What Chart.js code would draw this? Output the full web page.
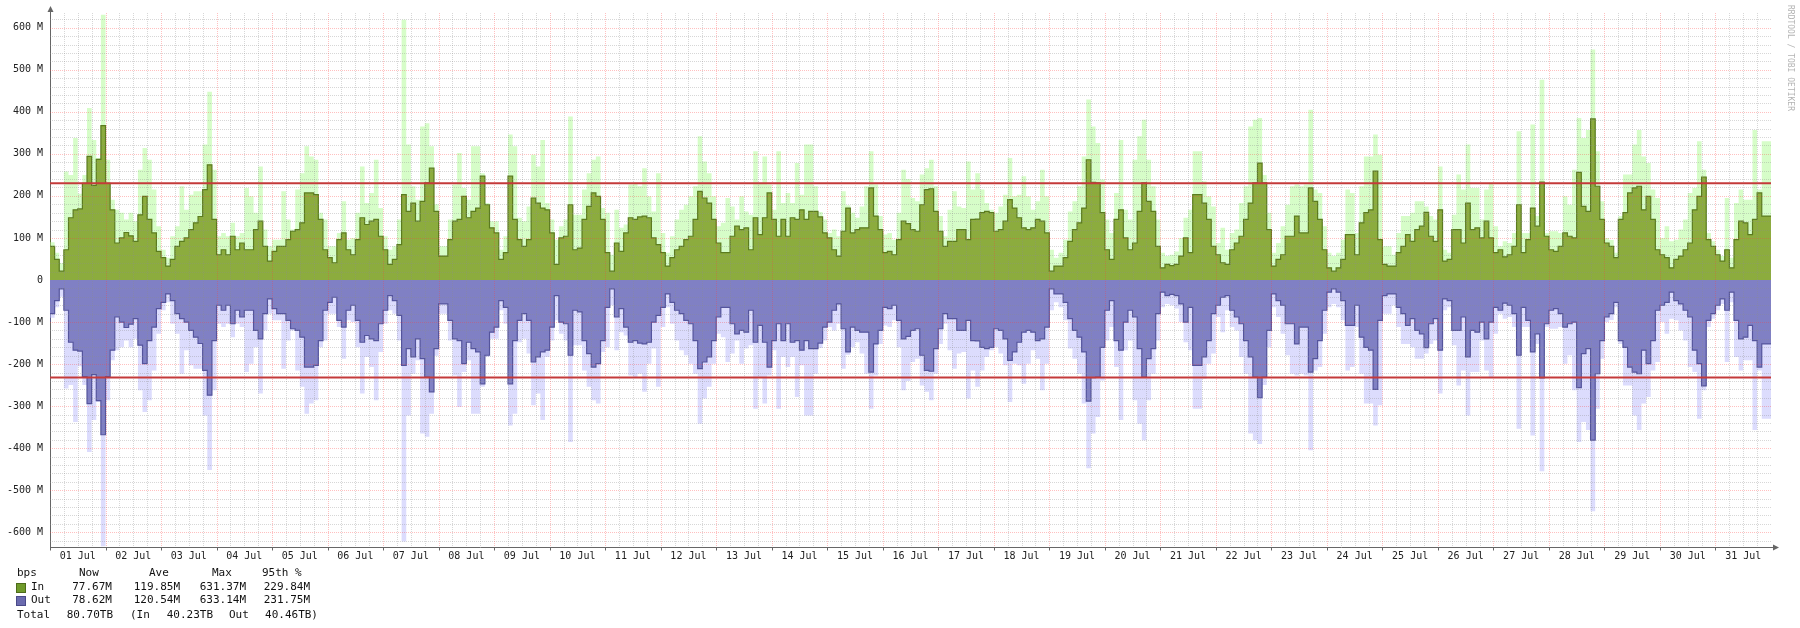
<!DOCTYPE html>
<html>
<head>
<meta charset="utf-8">
<title>Traffic - July</title>
<script src="https://cdn.jsdelivr.net/npm/chart.js@4.4.1/dist/chart.umd.min.js"></script>
<style>
  body { margin: 0; background: #fff; }
  #wrap { position: relative; width: 1800px; height: 628px; overflow: hidden; }
  #wrap canvas { position: absolute; left: 0; top: 0; }
  .t { position: absolute; font: 11px 'DejaVu Sans Mono', monospace; color: #111; white-space: pre; line-height: 14px; }
  .r { transform: translateX(-100%); }
  .sq { position: absolute; width: 8px; height: 8px; }
  #credit { position: absolute; left: 1786px; top: 5px; font: 8px 'DejaVu Sans Mono', monospace; color: #b4b4b4; writing-mode: vertical-rl; white-space: nowrap; }
</style>
</head>
<body>
<div id="wrap">
  <canvas id="my-chart" width="1800" height="628"></canvas>

  <div class="t" style="left:17px;top:566px">bps</div>
  <div class="t" style="left:79px;top:566px">Now</div>
  <div class="t" style="left:149px;top:566px">Ave</div>
  <div class="t" style="left:212px;top:566px">Max</div>
  <div class="t" style="left:262px;top:566px">95th %</div>

  <div class="sq" style="left:16px;top:583px;background:#6f9a2a;border:1px solid #4d6b1a"></div>
  <div class="t" style="left:31px;top:580px">In</div>
  <div class="t r" style="left:112px;top:580px">77.67M</div>
  <div class="t r" style="left:180px;top:580px">119.85M</div>
  <div class="t r" style="left:246px;top:580px">631.37M</div>
  <div class="t r" style="left:310px;top:580px">229.84M</div>

  <div class="sq" style="left:16px;top:596px;background:#6a6aae;border:1px solid #4a4a88"></div>
  <div class="t" style="left:31px;top:593px">Out</div>
  <div class="t r" style="left:112px;top:593px">78.62M</div>
  <div class="t r" style="left:180px;top:593px">120.54M</div>
  <div class="t r" style="left:246px;top:593px">633.14M</div>
  <div class="t r" style="left:310px;top:593px">231.75M</div>

  <div class="t" style="left:17px;top:608px">Total</div>
  <div class="t r" style="left:113px;top:608px">80.70TB</div>
  <div class="t" style="left:130px;top:608px">(In</div>
  <div class="t r" style="left:213px;top:608px">40.23TB</div>
  <div class="t" style="left:229px;top:608px">Out</div>
  <div class="t r" style="left:318px;top:608px">40.46TB)</div>

  <div id="credit">RRDTOOL / TOBI OETIKER</div>
</div>

<script>
'use strict';

// one value every 2 hours, 12 per day, 1 Jul .. 31 Jul (Mbps)
let stepHours = 2;

let dayLabels = ['01 Jul', '02 Jul', '03 Jul', '04 Jul', '05 Jul', '06 Jul', '07 Jul', '08 Jul',
  '09 Jul', '10 Jul', '11 Jul', '12 Jul', '13 Jul', '14 Jul', '15 Jul', '16 Jul', '17 Jul',
  '18 Jul', '19 Jul', '20 Jul', '21 Jul', '22 Jul', '23 Jul', '24 Jul', '25 Jul', '26 Jul',
  '27 Jul', '28 Jul', '29 Jul', '30 Jul', '31 Jul'];

let yTicks = [-600, -500, -400, -300, -200, -100, 0, 100, 200, 300, 400, 500, 600];

// 95th percentile: in, out
let pct95 = [229.84, 231.75];

let inAvg = [
  100, 80, 49, 21, 72, 148, 167, 169, 230, 294, 225, 287,
  367, 230, 167, 88, 100, 113, 105, 92, 155, 199, 144, 112,
  68, 53, 33, 49, 80, 92, 100, 120, 136, 151, 215, 274,
  144, 60, 72, 60, 104, 72, 88, 72, 72, 120, 140, 80,
  45, 68, 80, 80, 96, 116, 120, 136, 207, 207, 203, 144,
  72, 53, 41, 96, 112, 72, 60, 96, 148, 132, 140, 144,
  104, 72, 37, 49, 84, 203, 163, 183, 140, 187, 231, 266,
  163, 57, 57, 96, 140, 144, 199, 148, 163, 171, 247, 179,
  124, 112, 49, 65, 247, 144, 96, 80, 96, 195, 183, 171,
  167, 112, 37, 100, 104, 179, 72, 76, 144, 175, 207, 199,
  144, 65, 21, 88, 68, 112, 148, 144, 150, 152, 148, 100,
  84, 65, 33, 53, 72, 80, 96, 104, 144, 211, 195, 183,
  144, 88, 65, 65, 104, 128, 120, 124, 72, 148, 108, 148,
  207, 144, 104, 144, 104, 148, 144, 167, 144, 163, 163, 150,
  112, 100, 72, 57, 116, 171, 112, 120, 124, 124, 219, 152,
  120, 65, 68, 60, 96, 140, 134, 120, 116, 179, 215, 217,
  163, 116, 80, 92, 92, 120, 120, 96, 144, 145, 160, 163,
  160, 116, 120, 140, 191, 171, 148, 124, 120, 124, 144, 140,
  112, 21, 33, 33, 53, 92, 120, 136, 171, 286, 232, 231,
  160, 72, 49, 144, 167, 100, 72, 88, 163, 231, 187, 163,
  80, 29, 37, 34, 37, 57, 100, 65, 203, 203, 183, 144,
  80, 60, 41, 37, 72, 88, 104, 144, 183, 231, 278, 231,
  120, 33, 49, 60, 104, 104, 152, 112, 112, 219, 187, 144,
  72, 29, 21, 29, 49, 108, 108, 60, 136, 160, 167, 259,
  96, 37, 33, 33, 65, 80, 108, 92, 120, 128, 161, 104,
  92, 167, 45, 49, 120, 120, 88, 183, 120, 124, 100, 140,
  100, 65, 72, 55, 60, 80, 179, 65, 96, 171, 128, 233,
  104, 72, 68, 80, 112, 104, 100, 256, 175, 163, 383, 223,
  144, 88, 80, 53, 144, 160, 207, 219, 223, 167, 199, 144,
  72, 60, 53, 29, 49, 57, 72, 88, 167, 199, 245, 96,
  80, 60, 45, 72, 29, 96, 140, 136, 108, 144, 207, 152
];

let inMax = [
  227, 90, 65, 40, 258, 250, 338, 205, 250, 409, 333, 290,
  631, 286, 191, 167, 160, 144, 160, 140, 262, 314, 286, 215,
  128, 72, 53, 104, 128, 223, 167, 203, 211, 211, 322, 448,
  262, 104, 112, 104, 136, 104, 112, 219, 199, 160, 270, 120,
  80, 96, 96, 211, 144, 120, 215, 254, 318, 294, 286, 160,
  144, 80, 80, 112, 187, 96, 100, 160, 270, 183, 207, 286,
  171, 104, 72, 80, 144, 619, 322, 223, 191, 365, 373, 318,
  180, 80, 80, 144, 227, 302, 219, 191, 318, 318, 254, 183,
  140, 140, 72, 104, 346, 318, 148, 140, 175, 298, 270, 333,
  183, 144, 96, 128, 144, 389, 155, 155, 215, 254, 286, 294,
  171, 160, 60, 167, 124, 132, 227, 231, 223, 266, 199, 163,
  254, 112, 65, 104, 144, 167, 179, 199, 223, 342, 282, 254,
  199, 128, 136, 195, 175, 144, 199, 163, 155, 306, 231, 294,
  227, 167, 306, 183, 207, 183, 278, 203, 322, 322, 223, 162,
  144, 112, 120, 104, 211, 178, 160, 148, 175, 223, 306, 227,
  152, 108, 112, 96, 160, 262, 240, 195, 187, 251, 266, 286,
  223, 152, 104, 167, 211, 175, 171, 282, 215, 254, 215, 183,
  167, 160, 175, 203, 290, 199, 203, 247, 199, 167, 187, 262,
  199, 72, 53, 65, 96, 163, 187, 223, 294, 429, 365, 326,
  239, 144, 112, 207, 333, 167, 144, 286, 342, 381, 286, 223,
  144, 65, 57, 60, 68, 100, 148, 167, 306, 306, 235, 199,
  175, 88, 124, 72, 112, 120, 183, 223, 365, 381, 385, 250,
  160, 65, 88, 128, 179, 223, 227, 223, 227, 405, 215, 207,
  128, 65, 57, 65, 96, 215, 207, 112, 223, 294, 294, 346,
  298, 80, 80, 60, 112, 152, 152, 160, 187, 187, 175, 152,
  144, 270, 72, 65, 155, 251, 215, 322, 219, 219, 144, 215,
  231, 128, 80, 92, 88, 112, 354, 112, 112, 370, 152, 476,
  112, 116, 116, 112, 199, 179, 262, 385, 338, 357, 548, 306,
  187, 100, 95, 65, 152, 251, 251, 322, 357, 294, 278, 215,
  195, 100, 128, 92, 96, 120, 144, 207, 219, 330, 262, 112,
  92, 72, 57, 195, 53, 183, 215, 191, 191, 357, 215, 330
];

let outAvg = [
  100, 80, 49, 21, 72, 148, 167, 169, 230, 294, 225, 287,
  368, 230, 167, 88, 100, 113, 105, 92, 155, 199, 144, 112,
  68, 53, 33, 49, 80, 92, 100, 120, 136, 151, 215, 274,
  144, 60, 72, 60, 104, 72, 88, 72, 72, 120, 140, 80,
  45, 68, 80, 80, 96, 116, 120, 136, 207, 207, 203, 144,
  72, 53, 41, 96, 112, 72, 60, 96, 148, 132, 140, 144,
  104, 72, 37, 49, 84, 203, 163, 183, 140, 187, 231, 266,
  163, 57, 57, 96, 140, 144, 199, 148, 163, 171, 247, 179,
  124, 112, 49, 65, 247, 144, 96, 80, 96, 195, 183, 171,
  167, 112, 37, 100, 104, 179, 72, 76, 144, 175, 207, 199,
  144, 65, 21, 88, 68, 112, 148, 144, 150, 152, 148, 100,
  84, 65, 33, 53, 72, 80, 96, 104, 144, 211, 195, 183,
  144, 88, 65, 65, 104, 128, 120, 124, 72, 148, 108, 148,
  207, 144, 104, 144, 104, 148, 144, 167, 144, 163, 163, 150,
  112, 100, 72, 57, 116, 171, 112, 120, 124, 124, 219, 152,
  120, 65, 68, 60, 96, 140, 134, 120, 116, 179, 215, 217,
  163, 116, 80, 92, 92, 120, 120, 96, 144, 145, 160, 163,
  160, 116, 120, 140, 191, 171, 148, 124, 120, 124, 144, 140,
  112, 21, 33, 33, 53, 92, 120, 136, 171, 288, 232, 231,
  160, 72, 49, 144, 167, 100, 72, 88, 163, 231, 187, 163,
  80, 29, 37, 34, 37, 57, 100, 65, 203, 203, 183, 144,
  80, 60, 41, 37, 72, 88, 104, 144, 183, 231, 280, 231,
  120, 33, 49, 60, 104, 104, 152, 112, 112, 219, 187, 144,
  72, 29, 21, 29, 49, 108, 108, 60, 136, 160, 167, 260,
  96, 37, 33, 33, 65, 80, 108, 92, 120, 128, 161, 104,
  92, 167, 45, 49, 120, 120, 88, 183, 120, 124, 100, 140,
  100, 65, 72, 55, 60, 80, 179, 65, 96, 171, 128, 233,
  104, 72, 68, 80, 112, 104, 100, 256, 175, 163, 381, 223,
  144, 88, 80, 53, 144, 160, 207, 219, 223, 167, 199, 144,
  72, 60, 53, 29, 49, 57, 72, 88, 167, 199, 252, 96,
  80, 60, 45, 72, 29, 96, 140, 136, 108, 144, 207, 152
];

let outMax = [
  227, 90, 65, 40, 258, 250, 338, 205, 250, 409, 333, 290,
  633, 286, 191, 167, 160, 144, 160, 140, 262, 314, 286, 215,
  128, 72, 53, 104, 128, 223, 167, 203, 211, 211, 322, 452,
  262, 104, 112, 104, 136, 104, 112, 219, 199, 160, 270, 120,
  80, 96, 96, 211, 144, 120, 215, 254, 318, 294, 286, 160,
  144, 80, 80, 112, 187, 96, 100, 160, 270, 183, 207, 286,
  171, 104, 72, 80, 144, 622, 322, 223, 191, 365, 373, 318,
  180, 80, 80, 144, 227, 302, 219, 191, 318, 318, 254, 183,
  140, 140, 72, 104, 346, 318, 148, 140, 175, 298, 270, 333,
  183, 144, 96, 128, 144, 385, 155, 155, 215, 254, 286, 294,
  171, 160, 60, 167, 124, 132, 227, 231, 223, 266, 199, 163,
  254, 112, 65, 104, 144, 167, 179, 199, 223, 342, 282, 254,
  199, 128, 136, 195, 175, 144, 199, 163, 155, 306, 231, 294,
  227, 167, 306, 183, 207, 183, 278, 203, 322, 322, 223, 162,
  144, 112, 120, 104, 211, 178, 160, 148, 175, 223, 306, 227,
  152, 108, 112, 96, 160, 262, 240, 195, 187, 251, 266, 286,
  223, 152, 104, 167, 211, 175, 171, 282, 215, 254, 215, 183,
  167, 160, 175, 203, 290, 199, 203, 247, 199, 167, 187, 262,
  199, 72, 53, 65, 96, 163, 187, 223, 294, 448, 365, 326,
  239, 144, 112, 207, 333, 167, 144, 286, 342, 381, 286, 223,
  144, 65, 57, 60, 68, 100, 148, 167, 306, 306, 235, 199,
  175, 88, 124, 72, 112, 120, 183, 223, 365, 381, 390, 250,
  160, 65, 88, 128, 179, 223, 227, 223, 227, 405, 215, 207,
  128, 65, 57, 65, 96, 215, 207, 112, 223, 294, 294, 346,
  298, 80, 80, 60, 112, 152, 152, 160, 187, 187, 175, 152,
  144, 270, 72, 65, 155, 251, 215, 322, 219, 219, 144, 215,
  231, 128, 80, 92, 88, 112, 354, 112, 112, 370, 152, 455,
  112, 116, 116, 112, 199, 179, 262, 385, 338, 357, 550, 306,
  187, 100, 95, 65, 152, 251, 251, 322, 357, 294, 278, 215,
  195, 100, 128, 92, 96, 120, 144, 207, 219, 330, 262, 112,
  92, 72, 57, 195, 53, 183, 215, 191, 191, 357, 215, 330
];

let totalHours = dayLabels.length * 24;

// turn a list into stepped points, out side goes below zero like rrdtool does
function toSteps(values, sign) {
  let pts = [];
  for (let i = 0; i < values.length; i++) {
    pts.push({x: i * stepHours, y: sign * values[i]});
  }
  pts.push({x: totalHours, y: sign * values[values.length - 1]});
  return pts;
}

function ruleAt(v) {
  return [{x: 0, y: v}, {x: totalHours, y: v}];
}

// grid is drawn on top of the areas but under the 95th lines
let gridDone = false;
const rrdGrid = {
  id: 'rrdGrid',
  beforeDatasetsDraw() { gridDone = false; },
  beforeDatasetDraw(chart, args) {
    if (gridDone || !chart.data.datasets[args.index].isRule) return;
    gridDone = true;
    const {ctx, chartArea: a, scales: {x, y}} = chart;
    ctx.save();
    ctx.lineWidth = 1;
    ctx.setLineDash([1, 1]);
    function vline(h) {
      const px = Math.round(x.getPixelForValue(h)) + 0.5;
      ctx.beginPath(); ctx.moveTo(px, a.top); ctx.lineTo(px, a.bottom); ctx.stroke();
    }
    function hline(v) {
      const py = Math.round(y.getPixelForValue(v)) + 0.5;
      ctx.beginPath(); ctx.moveTo(a.left, py); ctx.lineTo(a.right, py); ctx.stroke();
    }
    ctx.strokeStyle = 'rgba(140,140,140,0.35)';
    for (let h = 6; h < totalHours; h += 6) { if (h % 24 !== 0) vline(h); }
    for (let v = -620; v <= 620; v += 20) { if (v % 100 !== 0) hline(v); }
    ctx.strokeStyle = 'rgba(255,60,60,0.32)';
    for (let h = 24; h < totalHours; h += 24) vline(h);
    for (let v of yTicks) { if (v !== 0) hline(v); }
    ctx.restore();
  }
};

// little arrows on the axes and ticks under the time axis
const rrdArrows = {
  id: 'rrdArrows',
  afterDraw(chart) {
    const {ctx, chartArea: a, scales: {x}} = chart;
    ctx.save();
    ctx.fillStyle = '#666';
    ctx.strokeStyle = '#666';
    ctx.lineWidth = 1;
    let lx = Math.round(a.left) + 0.5;
    ctx.beginPath(); ctx.moveTo(lx, a.top); ctx.lineTo(lx, a.top - 4); ctx.stroke();
    ctx.beginPath(); ctx.moveTo(lx, a.top - 7); ctx.lineTo(lx - 3, a.top - 1); ctx.lineTo(lx + 3, a.top - 1); ctx.closePath(); ctx.fill();
    let by = Math.round(a.bottom) + 0.5;
    ctx.beginPath(); ctx.moveTo(a.right, by); ctx.lineTo(a.right + 2, by); ctx.stroke();
    ctx.beginPath(); ctx.moveTo(a.right + 8, by); ctx.lineTo(a.right + 2, by - 3); ctx.lineTo(a.right + 2, by + 3); ctx.closePath(); ctx.fill();
    for (let h = 0; h < totalHours; h += 24) {
      const px = Math.round(x.getPixelForValue(h)) + 0.5;
      ctx.beginPath(); ctx.moveTo(px, by); ctx.lineTo(px, by + 3); ctx.stroke();
    }
    ctx.restore();
  }
};

const ctx = document.getElementById('my-chart').getContext('2d');

let chartData = {
  type: 'line',
  data: {
    datasets: [
      { label: 'In 95th', data: ruleAt(pct95[0]), isRule: true, borderColor: '#c43a3a', borderWidth: 2, pointRadius: 0, fill: false, order: 0 },
      { label: 'Out 95th', data: ruleAt(-pct95[1]), isRule: true, borderColor: '#c43a3a', borderWidth: 2, pointRadius: 0, fill: false, order: 0 },
      { label: 'In', data: toSteps(inAvg, 1), stepped: 'after', fill: 'origin', backgroundColor: '#8cac3e', borderColor: '#5b7b1f', borderWidth: 1.2, pointRadius: 0, order: 1 },
      { label: 'Out', data: toSteps(outAvg, -1), stepped: 'after', fill: 'origin', backgroundColor: '#8080c4', borderColor: '#54549c', borderWidth: 1.2, pointRadius: 0, order: 1 },
      { label: 'In max', data: toSteps(inMax, 1), stepped: 'after', fill: 'origin', backgroundColor: '#d6fdc8', borderWidth: 0, pointRadius: 0, order: 2 },
      { label: 'Out max', data: toSteps(outMax, -1), stepped: 'after', fill: 'origin', backgroundColor: '#dcdcfd', borderWidth: 0, pointRadius: 0, order: 2 }
    ]
  },
  options: {
    responsive: false,
    animation: false,
    devicePixelRatio: 1,
    events: [],
    layout: { padding: { left: 0, right: 29, top: 13, bottom: 0 } },
    plugins: { legend: { display: false }, tooltip: { enabled: false } },
    scales: {
      x: {
        type: 'linear',
        min: 0,
        max: totalHours,
        grid: { display: false, drawTicks: false },
        border: { display: true, color: '#666', width: 1 },
        afterFit: function(s) { s.height = 81; },
        afterBuildTicks: function(s) { s.ticks = dayLabels.map((d, i) => ({value: 12 + 24 * i})); },
        ticks: {
          padding: 3,
          maxRotation: 0,
          autoSkip: false,
          color: '#222',
          font: { family: "'DejaVu Sans Mono', monospace", size: 10 },
          callback: function(v, i) { return dayLabels[i]; }
        }
      },
      y: {
        min: -635,
        max: 635,
        grid: { display: false, drawTicks: false },
        border: { display: true, color: '#666', width: 1 },
        afterFit: function(s) { s.width = 50; },
        afterBuildTicks: function(s) { s.ticks = yTicks.map(v => ({value: v})); },
        ticks: {
          padding: 7,
          color: '#222',
          font: { family: "'DejaVu Sans Mono', monospace", size: 10 },
          callback: function(v) { return v === 0 ? '0' : v + ' M'; }
        }
      }
    }
  },
  plugins: [rrdGrid, rrdArrows]
};

new Chart(ctx, chartData);
</script>
</body>
</html>
